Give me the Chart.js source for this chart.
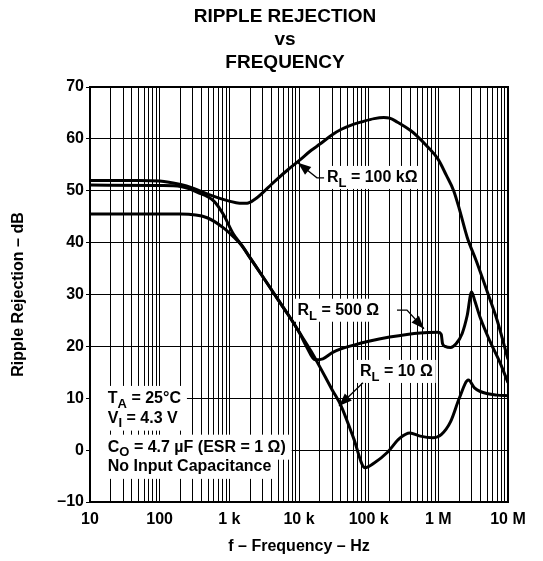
<!DOCTYPE html>
<html>
<head>
<meta charset="utf-8">
<title>Ripple Rejection vs Frequency</title>
<script src="https://cdn.jsdelivr.net/npm/chart.js@4.4.0/dist/chart.umd.min.js"></script>
<style>
    html, body { margin: 0; padding: 0; background: #fff; }
</style>
</head>
<body>
<canvas id="rippleChart" width="543" height="561"></canvas>
<script>
var FONT = '"Liberation Sans", Arial, Helvetica, sans-serif';

// chart text
var titleLines = ['RIPPLE REJECTION', 'vs', 'FREQUENCY'];
var xTitle = 'f \u2013 Frequency \u2013 Hz';
var yTitle = 'Ripple Rejection \u2013 dB';

// axes
var decadeTicks = [10, 100, 1e3, 1e4, 1e5, 1e6, 1e7];
var decadeLabels = ['10', '100', '1 k', '10 k', '100 k', '1 M', '10 M'];
var yMin = -10;
var yMax = 70;

// RL = 100 kOhm
var freq100k = [10, 50, 100, 200, 300, 500, 1000, 1400, 1800, 2300, 3000, 4000, 5000, 7000, 10000, 15000, 20000,
    30000, 40000, 60000, 80000, 120000, 165000, 200000, 260000, 400000, 500000, 700000, 1000000, 1300000,
    1660000, 2000000, 2600000, 3500000, 5200000, 7000000, 10000000];
var db100k = [52.0, 52.0, 51.9, 51.2, 50.5, 49.3, 48.0, 47.6, 47.6, 48.3, 49.6, 51.2, 52.4, 54.1, 55.8, 57.8, 59.0,
    60.8, 61.8, 62.8, 63.3, 63.9, 64.1, 64.0, 63.2, 61.6, 60.5, 58.5, 56.0, 53.0,
    50.0, 46.5, 41.0, 36.5, 30.0, 25.0, 17.5];

// RL = 500 Ohm
var freq500 = [10, 100, 200, 350, 600, 815, 1150, 1500, 2000, 2800, 3900, 5000, 7000, 10000, 13000, 17000,
    22000, 31000, 63000, 100000, 200000, 550000, 1000000, 1100000, 1150000, 1250000, 1500000, 1800000,
    2200000, 2600000, 3000000, 3300000, 4000000, 5500000, 7600000, 10000000];
var db500 = [51.1, 51.0, 50.8, 49.7, 48.0, 45.5, 41.6, 39.5, 37.0, 34.1, 31.2, 29.0, 26.1, 22.8, 19.8, 17.4,
    17.6, 18.9, 20.3, 21.0, 21.8, 22.6, 22.7, 22.3, 20.5, 20.0, 19.8, 20.5,
    22.5, 26.0, 30.5, 29.0, 25.5, 21.0, 17.0, 13.0];

// RL = 10 Ohm
var freq10 = [10, 100, 200, 480, 815, 1150, 1500, 2000, 2800, 3900, 5000, 7000, 10000, 15000, 20000, 30000,
    40000, 60000, 89000, 120000, 183000, 280000, 390000, 550000, 830000, 1100000, 1500000, 2000000,
    2700000, 3300000, 4000000, 6900000, 10000000];
var db10 = [45.5, 45.5, 45.5, 44.8, 42.9, 41.1, 39.5, 37.0, 34.1, 31.2, 29.0, 26.1, 22.8, 19.0, 16.0, 11.6,
    8.6, 2.5, -3.4, -2.5, -0.5, 2.3, 3.3, 2.7, 2.4, 3.0, 5.5, 10.0,
    13.5, 12.0, 11.3, 10.6, 10.5];

function toPoints(xs, ys) {
    var pts = [];
    for (var i = 0; i < xs.length; i++) {
        pts.push({ x: xs[i], y: ys[i] });
    }
    return pts;
}

// label anchors in data units (frequency, dB)
var curveNotes = [
    { parts: [['R', 0], ['L', 1], [' = 100 k\u03A9', 0]], at: [25.2e3, 51.7],
      leader: [[22.9e3, 52.5], [18.1e3, 52.5], [9.66e3, 55.4]] },
    { parts: [['R', 0], ['L', 1], [' = 500 \u03A9', 0]], at: [9.5e3, 26.1],
      leader: [[255e3, 27.0], [355e3, 27.0], [622e3, 23.4]] },
    { parts: [['R', 0], ['L', 1], [' = 10 \u03A9', 0]], at: [75e3, 14.3],
      leader: [[82.8e3, 13.0], [37.5e3, 8.5]] }
];

var conditionLines = [
    { parts: [['T', 0], ['A', 1], [' = 25\u00B0C', 0]], at: [18, 9.1] },
    { parts: [['V', 0], ['I', 1], [' = 4.3 V', 0]], at: [18, 5.3] },
    { parts: [['C', 0], ['O', 1], [' = 4.7 \u00B5F (ESR = 1 \u03A9)', 0]], at: [18, -0.3] },
    { parts: [['No Input Capacitance', 0]], at: [18, -4.0] }
];

function richWidth(ctx, parts, size) {
    var w = 0;
    parts.forEach(function(p) {
        ctx.font = 'bold ' + (p[1] ? Math.round(size * 0.8) : size) + 'px ' + FONT;
        w += ctx.measureText(p[0]).width;
    });
    return w;
}

function drawRich(ctx, parts, x, y, size) {
    var cx = x;
    ctx.textAlign = 'left';
    ctx.textBaseline = 'alphabetic';
    parts.forEach(function(p) {
        var sz = p[1] ? Math.round(size * 0.8) : size;
        ctx.font = 'bold ' + sz + 'px ' + FONT;
        ctx.fillText(p[0], cx, y + (p[1] ? size * 0.3 : 0));
        cx += ctx.measureText(p[0]).width;
    });
}

var sheetText = {
    id: 'sheetText',
    beforeDatasetsDraw: function(chart) {
        var ctx = chart.ctx;
        var xs = chart.scales.x, ys = chart.scales.y;
        var area = chart.chartArea;
        ctx.save();

        // conditions box, white behind each line
        conditionLines.forEach(function(line) {
            var x = xs.getPixelForValue(line.at[0]);
            var y = ys.getPixelForValue(line.at[1]);
            var w = richWidth(ctx, line.parts, 16);
            ctx.fillStyle = '#fff';
            ctx.fillRect(area.left + 1, y - 17, x - area.left + w + 5, 25);
        });
        ctx.fillStyle = '#000';
        conditionLines.forEach(function(line) {
            drawRich(ctx, line.parts, xs.getPixelForValue(line.at[0]), ys.getPixelForValue(line.at[1]), 16);
        });

        // curve labels
        curveNotes.forEach(function(n) {
            var x = xs.getPixelForValue(n.at[0]);
            var y = ys.getPixelForValue(n.at[1]);
            var w = richWidth(ctx, n.parts, 16);
            ctx.fillStyle = '#fff';
            ctx.fillRect(x - 3, y - 16, w + 6, 23);
            ctx.fillStyle = '#000';
            drawRich(ctx, n.parts, x, y, 16);
        });

        // frame
        ctx.strokeStyle = '#000';
        ctx.lineWidth = 2;
        ctx.strokeRect(area.left, area.top, area.right - area.left, area.bottom - area.top);
        ctx.restore();
    },
    afterDatasetsDraw: function(chart) {
        var ctx = chart.ctx;
        var xs = chart.scales.x, ys = chart.scales.y;
        ctx.save();
        ctx.strokeStyle = '#000';
        ctx.fillStyle = '#000';
        ctx.lineWidth = 1.3;
        curveNotes.forEach(function(n) {
            var pts = n.leader.map(function(p) {
                return [xs.getPixelForValue(p[0]), ys.getPixelForValue(p[1])];
            });
            ctx.beginPath();
            ctx.moveTo(pts[0][0], pts[0][1]);
            for (var i = 1; i < pts.length; i++) ctx.lineTo(pts[i][0], pts[i][1]);
            ctx.stroke();
            // arrow head at the last point
            var tip = pts[pts.length - 1], prev = pts[pts.length - 2];
            var ang = Math.atan2(tip[1] - prev[1], tip[0] - prev[0]);
            var len = 13, half = 5;
            ctx.beginPath();
            ctx.moveTo(tip[0], tip[1]);
            ctx.lineTo(tip[0] - len * Math.cos(ang) + half * Math.sin(ang), tip[1] - len * Math.sin(ang) - half * Math.cos(ang));
            ctx.lineTo(tip[0] - len * Math.cos(ang) - half * Math.sin(ang), tip[1] - len * Math.sin(ang) + half * Math.cos(ang));
            ctx.closePath();
            ctx.fill();
        });
        ctx.restore();
    },
    afterDraw: function(chart) {
        var ctx = chart.ctx;
        ctx.save();
        ctx.fillStyle = '#000';
        ctx.textAlign = 'center';
        ctx.textBaseline = 'alphabetic';
        ctx.font = 'bold 19px ' + FONT;
        var cx = 285;
        ctx.fillText(titleLines[0], cx, 22);
        ctx.fillText(titleLines[1], cx, 45);
        ctx.fillText(titleLines[2], cx, 68);
        ctx.restore();
    }
};

var ctx = document.getElementById('rippleChart').getContext('2d');
var curveStyle = {
    borderColor: '#000',
    borderWidth: 3,
    pointRadius: 0,
    fill: false,
    cubicInterpolationMode: 'monotone'
};

var rippleChart = new Chart(ctx, {
    type: 'line',
    data: {
        datasets: [
            Object.assign({ label: 'RL = 100 k\u03A9', data: toPoints(freq100k, db100k) }, curveStyle),
            Object.assign({ label: 'RL = 500 \u03A9', data: toPoints(freq500, db500) }, curveStyle),
            Object.assign({ label: 'RL = 10 \u03A9', data: toPoints(freq10, db10) }, curveStyle)
        ]
    },
    options: {
        responsive: false,
        animation: false,
        devicePixelRatio: 1,
        layout: { padding: { top: 87, right: 35, left: 0, bottom: 0 } },
        plugins: {
            legend: { display: false },
            title: { display: false },
            tooltip: { enabled: false }
        },
        scales: {
            x: {
                type: 'logarithmic',
                min: 10,
                max: 1e7,
                afterBuildTicks: function(scale) {
                    var t = [];
                    decadeTicks.forEach(function(d) {
                        for (var m = 1; m <= 9; m++) {
                            if (d * m <= 1e7) t.push({ value: d * m });
                        }
                    });
                    scale.ticks = t;
                },
                afterFit: function(scale) { scale.height = 59; },
                ticks: {
                    autoSkip: false,
                    maxRotation: 0,
                    padding: 8,
                    color: '#000',
                    font: { family: FONT, size: 16, weight: 'bold' },
                    callback: function(v) {
                        var i = decadeTicks.indexOf(v);
                        return i >= 0 ? decadeLabels[i] : '';
                    }
                },
                grid: { color: '#000', lineWidth: 1, drawTicks: false },
                border: { display: true, color: '#000', width: 2 },
                title: {
                    display: true,
                    text: xTitle,
                    color: '#000',
                    font: { family: FONT, size: 16, weight: 'bold' },
                    padding: { top: 0, bottom: 5 }
                }
            },
            y: {
                min: yMin,
                max: yMax,
                afterFit: function(scale) { scale.width = 90; },
                ticks: {
                    stepSize: 10,
                    padding: 2,
                    color: '#000',
                    font: { family: FONT, size: 16, weight: 'bold' },
                    callback: function(v) { return v < 0 ? '\u2013' + Math.abs(v) : '' + v; }
                },
                grid: { color: '#000', lineWidth: 1, drawTicks: true, tickLength: 4 },
                border: { display: true, color: '#000', width: 2 },
                title: {
                    display: true,
                    text: yTitle,
                    color: '#000',
                    font: { family: FONT, size: 16, weight: 'bold' },
                    padding: { top: 9, bottom: 0 }
                }
            }
        }
    },
    plugins: [sheetText]
});
</script>
</body>
</html>
